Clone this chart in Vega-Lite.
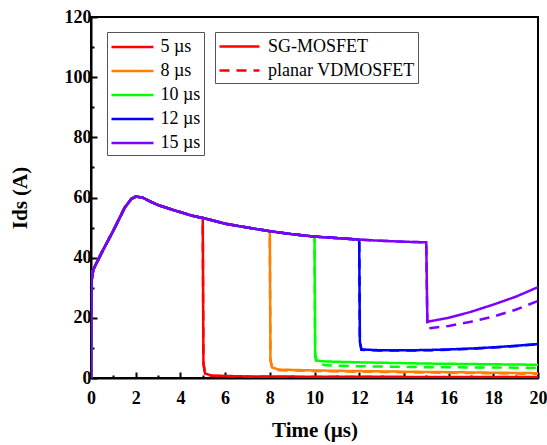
{
  "$schema": "https://vega.github.io/schema/vega-lite/v6.json",
  "width": 447,
  "height": 361,
  "autosize": "none",
  "padding": {"left": 91, "top": 17, "right": 9, "bottom": 67},
  "background": "white",
  "config": {
    "view": {"stroke": "black", "strokeWidth": 2},
    "font": "Liberation Serif"
  },
  "data": {"values": [
    {"t":0,"I":0,"p":"5 µs","d":"planar VDMOSFET"},{"t":0.02,"I":32,"p":"5 µs","d":"planar VDMOSFET"},{"t":0.1,"I":36,"p":"5 µs","d":"planar VDMOSFET"},{"t":0.5,"I":42,"p":"5 µs","d":"planar VDMOSFET"},{"t":1,"I":49,"p":"5 µs","d":"planar VDMOSFET"},{"t":1.5,"I":56.5,"p":"5 µs","d":"planar VDMOSFET"},{"t":1.8,"I":59.5,"p":"5 µs","d":"planar VDMOSFET"},{"t":2,"I":60.3,"p":"5 µs","d":"planar VDMOSFET"},{"t":2.3,"I":60,"p":"5 µs","d":"planar VDMOSFET"},{"t":2.7,"I":58.5,"p":"5 µs","d":"planar VDMOSFET"},{"t":3,"I":57.5,"p":"5 µs","d":"planar VDMOSFET"},{"t":3.7,"I":55.8,"p":"5 µs","d":"planar VDMOSFET"},{"t":4.5,"I":54,"p":"5 µs","d":"planar VDMOSFET"},{"t":5,"I":53.2,"p":"5 µs","d":"planar VDMOSFET"},{"t":5.03,"I":5,"p":"5 µs","d":"planar VDMOSFET"},{"t":5.1,"I":1.4,"p":"5 µs","d":"planar VDMOSFET"},{"t":5.4,"I":0.7,"p":"5 µs","d":"planar VDMOSFET"},{"t":7,"I":0.4,"p":"5 µs","d":"planar VDMOSFET"},{"t":12,"I":0.3,"p":"5 µs","d":"planar VDMOSFET"},{"t":20,"I":0.2,"p":"5 µs","d":"planar VDMOSFET"},

    {"t":0,"I":0,"p":"8 µs","d":"planar VDMOSFET"},{"t":0.02,"I":32,"p":"8 µs","d":"planar VDMOSFET"},{"t":0.1,"I":36,"p":"8 µs","d":"planar VDMOSFET"},{"t":0.5,"I":42,"p":"8 µs","d":"planar VDMOSFET"},{"t":1,"I":49,"p":"8 µs","d":"planar VDMOSFET"},{"t":1.5,"I":56.5,"p":"8 µs","d":"planar VDMOSFET"},{"t":1.8,"I":59.5,"p":"8 µs","d":"planar VDMOSFET"},{"t":2,"I":60.3,"p":"8 µs","d":"planar VDMOSFET"},{"t":2.3,"I":60,"p":"8 µs","d":"planar VDMOSFET"},{"t":2.7,"I":58.5,"p":"8 µs","d":"planar VDMOSFET"},{"t":3,"I":57.5,"p":"8 µs","d":"planar VDMOSFET"},{"t":3.7,"I":55.8,"p":"8 µs","d":"planar VDMOSFET"},{"t":4.5,"I":54,"p":"8 µs","d":"planar VDMOSFET"},{"t":5,"I":53.2,"p":"8 µs","d":"planar VDMOSFET"},{"t":6,"I":51.3,"p":"8 µs","d":"planar VDMOSFET"},{"t":7,"I":50,"p":"8 µs","d":"planar VDMOSFET"},{"t":8,"I":48.8,"p":"8 µs","d":"planar VDMOSFET"},{"t":8.03,"I":6,"p":"8 µs","d":"planar VDMOSFET"},{"t":8.1,"I":3.3,"p":"8 µs","d":"planar VDMOSFET"},{"t":8.4,"I":2.6,"p":"8 µs","d":"planar VDMOSFET"},{"t":10,"I":2.3,"p":"8 µs","d":"planar VDMOSFET"},{"t":14,"I":1.9,"p":"8 µs","d":"planar VDMOSFET"},{"t":20,"I":1.4,"p":"8 µs","d":"planar VDMOSFET"},

    {"t":0,"I":0,"p":"10 µs","d":"planar VDMOSFET"},{"t":0.02,"I":32,"p":"10 µs","d":"planar VDMOSFET"},{"t":0.1,"I":36,"p":"10 µs","d":"planar VDMOSFET"},{"t":0.5,"I":42,"p":"10 µs","d":"planar VDMOSFET"},{"t":1,"I":49,"p":"10 µs","d":"planar VDMOSFET"},{"t":1.5,"I":56.5,"p":"10 µs","d":"planar VDMOSFET"},{"t":1.8,"I":59.5,"p":"10 µs","d":"planar VDMOSFET"},{"t":2,"I":60.3,"p":"10 µs","d":"planar VDMOSFET"},{"t":2.3,"I":60,"p":"10 µs","d":"planar VDMOSFET"},{"t":2.7,"I":58.5,"p":"10 µs","d":"planar VDMOSFET"},{"t":3,"I":57.5,"p":"10 µs","d":"planar VDMOSFET"},{"t":3.7,"I":55.8,"p":"10 µs","d":"planar VDMOSFET"},{"t":4.5,"I":54,"p":"10 µs","d":"planar VDMOSFET"},{"t":5,"I":53.2,"p":"10 µs","d":"planar VDMOSFET"},{"t":6,"I":51.3,"p":"10 µs","d":"planar VDMOSFET"},{"t":7,"I":50,"p":"10 µs","d":"planar VDMOSFET"},{"t":8,"I":48.8,"p":"10 µs","d":"planar VDMOSFET"},{"t":9,"I":47.8,"p":"10 µs","d":"planar VDMOSFET"},{"t":10,"I":47,"p":"10 µs","d":"planar VDMOSFET"},{"t":10.03,"I":7,"p":"10 µs","d":"planar VDMOSFET"},{"t":10.1,"I":5.0,"p":"10 µs","d":"planar VDMOSFET"},{"t":10.5,"I":4.2,"p":"10 µs","d":"planar VDMOSFET"},{"t":12,"I":3.9,"p":"10 µs","d":"planar VDMOSFET"},{"t":15,"I":3.6,"p":"10 µs","d":"planar VDMOSFET"},{"t":20,"I":3.4,"p":"10 µs","d":"planar VDMOSFET"},

    {"t":0,"I":0,"p":"12 µs","d":"planar VDMOSFET"},{"t":0.02,"I":32,"p":"12 µs","d":"planar VDMOSFET"},{"t":0.1,"I":36,"p":"12 µs","d":"planar VDMOSFET"},{"t":0.5,"I":42,"p":"12 µs","d":"planar VDMOSFET"},{"t":1,"I":49,"p":"12 µs","d":"planar VDMOSFET"},{"t":1.5,"I":56.5,"p":"12 µs","d":"planar VDMOSFET"},{"t":1.8,"I":59.5,"p":"12 µs","d":"planar VDMOSFET"},{"t":2,"I":60.3,"p":"12 µs","d":"planar VDMOSFET"},{"t":2.3,"I":60,"p":"12 µs","d":"planar VDMOSFET"},{"t":2.7,"I":58.5,"p":"12 µs","d":"planar VDMOSFET"},{"t":3,"I":57.5,"p":"12 µs","d":"planar VDMOSFET"},{"t":3.7,"I":55.8,"p":"12 µs","d":"planar VDMOSFET"},{"t":4.5,"I":54,"p":"12 µs","d":"planar VDMOSFET"},{"t":5,"I":53.2,"p":"12 µs","d":"planar VDMOSFET"},{"t":6,"I":51.3,"p":"12 µs","d":"planar VDMOSFET"},{"t":7,"I":50,"p":"12 µs","d":"planar VDMOSFET"},{"t":8,"I":48.8,"p":"12 µs","d":"planar VDMOSFET"},{"t":9,"I":47.8,"p":"12 µs","d":"planar VDMOSFET"},{"t":10,"I":47,"p":"12 µs","d":"planar VDMOSFET"},{"t":11,"I":46.5,"p":"12 µs","d":"planar VDMOSFET"},{"t":12,"I":46,"p":"12 µs","d":"planar VDMOSFET"},{"t":12.03,"I":12,"p":"12 µs","d":"planar VDMOSFET"},{"t":12.1,"I":9.4,"p":"12 µs","d":"planar VDMOSFET"},{"t":13,"I":9.1,"p":"12 µs","d":"planar VDMOSFET"},{"t":14,"I":9.1,"p":"12 µs","d":"planar VDMOSFET"},{"t":15,"I":9.2,"p":"12 µs","d":"planar VDMOSFET"},{"t":16,"I":9.4,"p":"12 µs","d":"planar VDMOSFET"},{"t":17,"I":9.7,"p":"12 µs","d":"planar VDMOSFET"},{"t":18,"I":10.1,"p":"12 µs","d":"planar VDMOSFET"},{"t":19,"I":10.6,"p":"12 µs","d":"planar VDMOSFET"},{"t":20,"I":11.2,"p":"12 µs","d":"planar VDMOSFET"},

    {"t":0,"I":0,"p":"15 µs","d":"planar VDMOSFET"},{"t":0.02,"I":32,"p":"15 µs","d":"planar VDMOSFET"},{"t":0.1,"I":36,"p":"15 µs","d":"planar VDMOSFET"},{"t":0.5,"I":42,"p":"15 µs","d":"planar VDMOSFET"},{"t":1,"I":49,"p":"15 µs","d":"planar VDMOSFET"},{"t":1.5,"I":56.5,"p":"15 µs","d":"planar VDMOSFET"},{"t":1.8,"I":59.5,"p":"15 µs","d":"planar VDMOSFET"},{"t":2,"I":60.3,"p":"15 µs","d":"planar VDMOSFET"},{"t":2.3,"I":60,"p":"15 µs","d":"planar VDMOSFET"},{"t":2.7,"I":58.5,"p":"15 µs","d":"planar VDMOSFET"},{"t":3,"I":57.5,"p":"15 µs","d":"planar VDMOSFET"},{"t":3.7,"I":55.8,"p":"15 µs","d":"planar VDMOSFET"},{"t":4.5,"I":54,"p":"15 µs","d":"planar VDMOSFET"},{"t":5,"I":53.2,"p":"15 µs","d":"planar VDMOSFET"},{"t":6,"I":51.3,"p":"15 µs","d":"planar VDMOSFET"},{"t":7,"I":50,"p":"15 µs","d":"planar VDMOSFET"},{"t":8,"I":48.8,"p":"15 µs","d":"planar VDMOSFET"},{"t":9,"I":47.8,"p":"15 µs","d":"planar VDMOSFET"},{"t":10,"I":47,"p":"15 µs","d":"planar VDMOSFET"},{"t":11,"I":46.5,"p":"15 µs","d":"planar VDMOSFET"},{"t":12,"I":46,"p":"15 µs","d":"planar VDMOSFET"},{"t":13,"I":45.6,"p":"15 µs","d":"planar VDMOSFET"},{"t":14,"I":45.3,"p":"15 µs","d":"planar VDMOSFET"},{"t":15,"I":45.1,"p":"15 µs","d":"planar VDMOSFET"},{"t":15.05,"I":16.5,"p":"15 µs","d":"planar VDMOSFET"},{"t":16,"I":17.3,"p":"15 µs","d":"planar VDMOSFET"},{"t":17,"I":18.7,"p":"15 µs","d":"planar VDMOSFET"},{"t":18,"I":20.4,"p":"15 µs","d":"planar VDMOSFET"},{"t":19,"I":22.7,"p":"15 µs","d":"planar VDMOSFET"},{"t":20,"I":25.6,"p":"15 µs","d":"planar VDMOSFET"},

    {"t":0,"I":0,"p":"5 µs","d":"SG-MOSFET"},{"t":0.02,"I":32,"p":"5 µs","d":"SG-MOSFET"},{"t":0.1,"I":36,"p":"5 µs","d":"SG-MOSFET"},{"t":0.5,"I":42,"p":"5 µs","d":"SG-MOSFET"},{"t":1,"I":49,"p":"5 µs","d":"SG-MOSFET"},{"t":1.5,"I":56.5,"p":"5 µs","d":"SG-MOSFET"},{"t":1.8,"I":59.5,"p":"5 µs","d":"SG-MOSFET"},{"t":2,"I":60.3,"p":"5 µs","d":"SG-MOSFET"},{"t":2.3,"I":60,"p":"5 µs","d":"SG-MOSFET"},{"t":2.7,"I":58.5,"p":"5 µs","d":"SG-MOSFET"},{"t":3,"I":57.5,"p":"5 µs","d":"SG-MOSFET"},{"t":3.7,"I":55.8,"p":"5 µs","d":"SG-MOSFET"},{"t":4.5,"I":54,"p":"5 µs","d":"SG-MOSFET"},{"t":5,"I":53.2,"p":"5 µs","d":"SG-MOSFET"},{"t":5.03,"I":5,"p":"5 µs","d":"SG-MOSFET"},{"t":5.1,"I":1.5,"p":"5 µs","d":"SG-MOSFET"},{"t":5.4,"I":0.8,"p":"5 µs","d":"SG-MOSFET"},{"t":7,"I":0.5,"p":"5 µs","d":"SG-MOSFET"},{"t":12,"I":0.4,"p":"5 µs","d":"SG-MOSFET"},{"t":20,"I":0.3,"p":"5 µs","d":"SG-MOSFET"},

    {"t":0,"I":0,"p":"8 µs","d":"SG-MOSFET"},{"t":0.02,"I":32,"p":"8 µs","d":"SG-MOSFET"},{"t":0.1,"I":36,"p":"8 µs","d":"SG-MOSFET"},{"t":0.5,"I":42,"p":"8 µs","d":"SG-MOSFET"},{"t":1,"I":49,"p":"8 µs","d":"SG-MOSFET"},{"t":1.5,"I":56.5,"p":"8 µs","d":"SG-MOSFET"},{"t":1.8,"I":59.5,"p":"8 µs","d":"SG-MOSFET"},{"t":2,"I":60.3,"p":"8 µs","d":"SG-MOSFET"},{"t":2.3,"I":60,"p":"8 µs","d":"SG-MOSFET"},{"t":2.7,"I":58.5,"p":"8 µs","d":"SG-MOSFET"},{"t":3,"I":57.5,"p":"8 µs","d":"SG-MOSFET"},{"t":3.7,"I":55.8,"p":"8 µs","d":"SG-MOSFET"},{"t":4.5,"I":54,"p":"8 µs","d":"SG-MOSFET"},{"t":5,"I":53.2,"p":"8 µs","d":"SG-MOSFET"},{"t":6,"I":51.3,"p":"8 µs","d":"SG-MOSFET"},{"t":7,"I":50,"p":"8 µs","d":"SG-MOSFET"},{"t":8,"I":48.8,"p":"8 µs","d":"SG-MOSFET"},{"t":8.03,"I":6,"p":"8 µs","d":"SG-MOSFET"},{"t":8.1,"I":3.5,"p":"8 µs","d":"SG-MOSFET"},{"t":8.4,"I":2.8,"p":"8 µs","d":"SG-MOSFET"},{"t":10,"I":2.5,"p":"8 µs","d":"SG-MOSFET"},{"t":14,"I":2.1,"p":"8 µs","d":"SG-MOSFET"},{"t":20,"I":1.6,"p":"8 µs","d":"SG-MOSFET"},

    {"t":0,"I":0,"p":"10 µs","d":"SG-MOSFET"},{"t":0.02,"I":32,"p":"10 µs","d":"SG-MOSFET"},{"t":0.1,"I":36,"p":"10 µs","d":"SG-MOSFET"},{"t":0.5,"I":42,"p":"10 µs","d":"SG-MOSFET"},{"t":1,"I":49,"p":"10 µs","d":"SG-MOSFET"},{"t":1.5,"I":56.5,"p":"10 µs","d":"SG-MOSFET"},{"t":1.8,"I":59.5,"p":"10 µs","d":"SG-MOSFET"},{"t":2,"I":60.3,"p":"10 µs","d":"SG-MOSFET"},{"t":2.3,"I":60,"p":"10 µs","d":"SG-MOSFET"},{"t":2.7,"I":58.5,"p":"10 µs","d":"SG-MOSFET"},{"t":3,"I":57.5,"p":"10 µs","d":"SG-MOSFET"},{"t":3.7,"I":55.8,"p":"10 µs","d":"SG-MOSFET"},{"t":4.5,"I":54,"p":"10 µs","d":"SG-MOSFET"},{"t":5,"I":53.2,"p":"10 µs","d":"SG-MOSFET"},{"t":6,"I":51.3,"p":"10 µs","d":"SG-MOSFET"},{"t":7,"I":50,"p":"10 µs","d":"SG-MOSFET"},{"t":8,"I":48.8,"p":"10 µs","d":"SG-MOSFET"},{"t":9,"I":47.8,"p":"10 µs","d":"SG-MOSFET"},{"t":10,"I":47,"p":"10 µs","d":"SG-MOSFET"},{"t":10.03,"I":8,"p":"10 µs","d":"SG-MOSFET"},{"t":10.1,"I":5.8,"p":"10 µs","d":"SG-MOSFET"},{"t":10.5,"I":5.5,"p":"10 µs","d":"SG-MOSFET"},{"t":12,"I":5.2,"p":"10 µs","d":"SG-MOSFET"},{"t":15,"I":4.8,"p":"10 µs","d":"SG-MOSFET"},{"t":20,"I":4.4,"p":"10 µs","d":"SG-MOSFET"},

    {"t":0,"I":0,"p":"12 µs","d":"SG-MOSFET"},{"t":0.02,"I":32,"p":"12 µs","d":"SG-MOSFET"},{"t":0.1,"I":36,"p":"12 µs","d":"SG-MOSFET"},{"t":0.5,"I":42,"p":"12 µs","d":"SG-MOSFET"},{"t":1,"I":49,"p":"12 µs","d":"SG-MOSFET"},{"t":1.5,"I":56.5,"p":"12 µs","d":"SG-MOSFET"},{"t":1.8,"I":59.5,"p":"12 µs","d":"SG-MOSFET"},{"t":2,"I":60.3,"p":"12 µs","d":"SG-MOSFET"},{"t":2.3,"I":60,"p":"12 µs","d":"SG-MOSFET"},{"t":2.7,"I":58.5,"p":"12 µs","d":"SG-MOSFET"},{"t":3,"I":57.5,"p":"12 µs","d":"SG-MOSFET"},{"t":3.7,"I":55.8,"p":"12 µs","d":"SG-MOSFET"},{"t":4.5,"I":54,"p":"12 µs","d":"SG-MOSFET"},{"t":5,"I":53.2,"p":"12 µs","d":"SG-MOSFET"},{"t":6,"I":51.3,"p":"12 µs","d":"SG-MOSFET"},{"t":7,"I":50,"p":"12 µs","d":"SG-MOSFET"},{"t":8,"I":48.8,"p":"12 µs","d":"SG-MOSFET"},{"t":9,"I":47.8,"p":"12 µs","d":"SG-MOSFET"},{"t":10,"I":47,"p":"12 µs","d":"SG-MOSFET"},{"t":11,"I":46.5,"p":"12 µs","d":"SG-MOSFET"},{"t":12,"I":46,"p":"12 µs","d":"SG-MOSFET"},{"t":12.03,"I":12,"p":"12 µs","d":"SG-MOSFET"},{"t":12.1,"I":9.5,"p":"12 µs","d":"SG-MOSFET"},{"t":13,"I":9.2,"p":"12 µs","d":"SG-MOSFET"},{"t":14,"I":9.2,"p":"12 µs","d":"SG-MOSFET"},{"t":15,"I":9.3,"p":"12 µs","d":"SG-MOSFET"},{"t":16,"I":9.5,"p":"12 µs","d":"SG-MOSFET"},{"t":17,"I":9.8,"p":"12 µs","d":"SG-MOSFET"},{"t":18,"I":10.2,"p":"12 µs","d":"SG-MOSFET"},{"t":19,"I":10.7,"p":"12 µs","d":"SG-MOSFET"},{"t":20,"I":11.3,"p":"12 µs","d":"SG-MOSFET"},

    {"t":0,"I":0,"p":"15 µs","d":"SG-MOSFET"},{"t":0.02,"I":32,"p":"15 µs","d":"SG-MOSFET"},{"t":0.1,"I":36,"p":"15 µs","d":"SG-MOSFET"},{"t":0.5,"I":42,"p":"15 µs","d":"SG-MOSFET"},{"t":1,"I":49,"p":"15 µs","d":"SG-MOSFET"},{"t":1.5,"I":56.5,"p":"15 µs","d":"SG-MOSFET"},{"t":1.8,"I":59.5,"p":"15 µs","d":"SG-MOSFET"},{"t":2,"I":60.3,"p":"15 µs","d":"SG-MOSFET"},{"t":2.3,"I":60,"p":"15 µs","d":"SG-MOSFET"},{"t":2.7,"I":58.5,"p":"15 µs","d":"SG-MOSFET"},{"t":3,"I":57.5,"p":"15 µs","d":"SG-MOSFET"},{"t":3.7,"I":55.8,"p":"15 µs","d":"SG-MOSFET"},{"t":4.5,"I":54,"p":"15 µs","d":"SG-MOSFET"},{"t":5,"I":53.2,"p":"15 µs","d":"SG-MOSFET"},{"t":6,"I":51.3,"p":"15 µs","d":"SG-MOSFET"},{"t":7,"I":50,"p":"15 µs","d":"SG-MOSFET"},{"t":8,"I":48.8,"p":"15 µs","d":"SG-MOSFET"},{"t":9,"I":47.8,"p":"15 µs","d":"SG-MOSFET"},{"t":10,"I":47,"p":"15 µs","d":"SG-MOSFET"},{"t":11,"I":46.5,"p":"15 µs","d":"SG-MOSFET"},{"t":12,"I":46,"p":"15 µs","d":"SG-MOSFET"},{"t":13,"I":45.6,"p":"15 µs","d":"SG-MOSFET"},{"t":14,"I":45.3,"p":"15 µs","d":"SG-MOSFET"},{"t":15,"I":45.1,"p":"15 µs","d":"SG-MOSFET"},{"t":15.05,"I":18.7,"p":"15 µs","d":"SG-MOSFET"},{"t":16,"I":20,"p":"15 µs","d":"SG-MOSFET"},{"t":17,"I":22,"p":"15 µs","d":"SG-MOSFET"},{"t":18,"I":24.4,"p":"15 µs","d":"SG-MOSFET"},{"t":19,"I":27,"p":"15 µs","d":"SG-MOSFET"},{"t":20,"I":30.2,"p":"15 µs","d":"SG-MOSFET"}
  ]},
  "mark": {"type": "line", "strokeWidth": 2.5, "clip": true},
  "encoding": {
    "x": {
      "field": "t", "type": "quantitative",
      "scale": {"domain": [0, 20], "nice": false, "zero": false},
      "axis": {
        "title": "Time (µs)",
        "values": [0,1,2,3,4,5,6,7,8,9,10,11,12,13,14,15,16,17,18,19,20],
        "labelExpr": "datum.value % 2 == 0 ? datum.label : ''",
        "grid": false,
        "domainColor": "black", "domainWidth": 2,
        "tickColor": "black", "tickWidth": 2,
        "tickSize": {"condition": {"test": "datum.value % 2 == 0", "value": -6}, "value": -3},
        "labelPadding": 17,
        "labelFont": "Liberation Serif", "labelFontWeight": "bold", "labelFontSize": 18, "labelColor": "black",
        "labelFlush": false,
        "titleFont": "Liberation Serif", "titleFontWeight": "bold", "titleFontSize": 21, "titleColor": "black",
        "titlePadding": 12
      }
    },
    "y": {
      "field": "I", "type": "quantitative",
      "scale": {"domain": [0, 120], "nice": false},
      "axis": {
        "title": "Ids (A)",
        "values": [0,10,20,30,40,50,60,70,80,90,100,110,120],
        "labelExpr": "datum.value % 20 == 0 ? datum.label : ''",
        "grid": false,
        "domainColor": "black", "domainWidth": 2,
        "tickColor": "black", "tickWidth": 2,
        "tickSize": {"condition": {"test": "datum.value % 20 == 0", "value": -6}, "value": -3},
        "labelPadding": 6,
        "labelFont": "Liberation Serif", "labelFontWeight": "bold", "labelFontSize": 18, "labelColor": "black",
        "labelFlush": false,
        "titleFont": "Liberation Serif", "titleFontWeight": "bold", "titleFontSize": 21, "titleColor": "black",
        "titlePadding": 34
      }
    },
    "color": {
      "field": "p", "type": "nominal",
      "scale": {"domain": ["5 µs","8 µs","10 µs","12 µs","15 µs"], "range": ["#FF0000","#FF8000","#00FF00","#0000FF","#8000FF"]},
      "legend": {
        "title": null, "orient": "none", "legendX": 16, "legendY": 15,
        "symbolType": "M-2,0H2", "symbolSize": 441, "symbolStrokeWidth": 2.5, "symbolDash": [1, 0],
        "symbolOffset": 10.5, "labelOffset": 16,
        "labelFont": "Liberation Serif", "labelFontSize": 18, "labelColor": "black",
        "rowPadding": 3, "padding": 3,
        "strokeColor": "#555555", "fillColor": "white"
      }
    },
    "strokeDash": {
      "field": "d", "type": "nominal",
      "scale": {"domain": ["SG-MOSFET","planar VDMOSFET"], "range": [[1,0],[10,7]]},
      "legend": {
        "title": null, "orient": "none", "legendX": 124, "legendY": 15,
        "symbolType": "M-2,0H2", "symbolSize": 400, "symbolStrokeWidth": 2.5, "symbolStrokeColor": "#FF0000",
        "symbolOffset": 10, "labelOffset": 17,
        "labelFont": "Liberation Serif", "labelFontSize": 18, "labelColor": "black",
        "rowPadding": 3, "padding": 3,
        "strokeColor": "#555555", "fillColor": "white"
      }
    }
  }
}
